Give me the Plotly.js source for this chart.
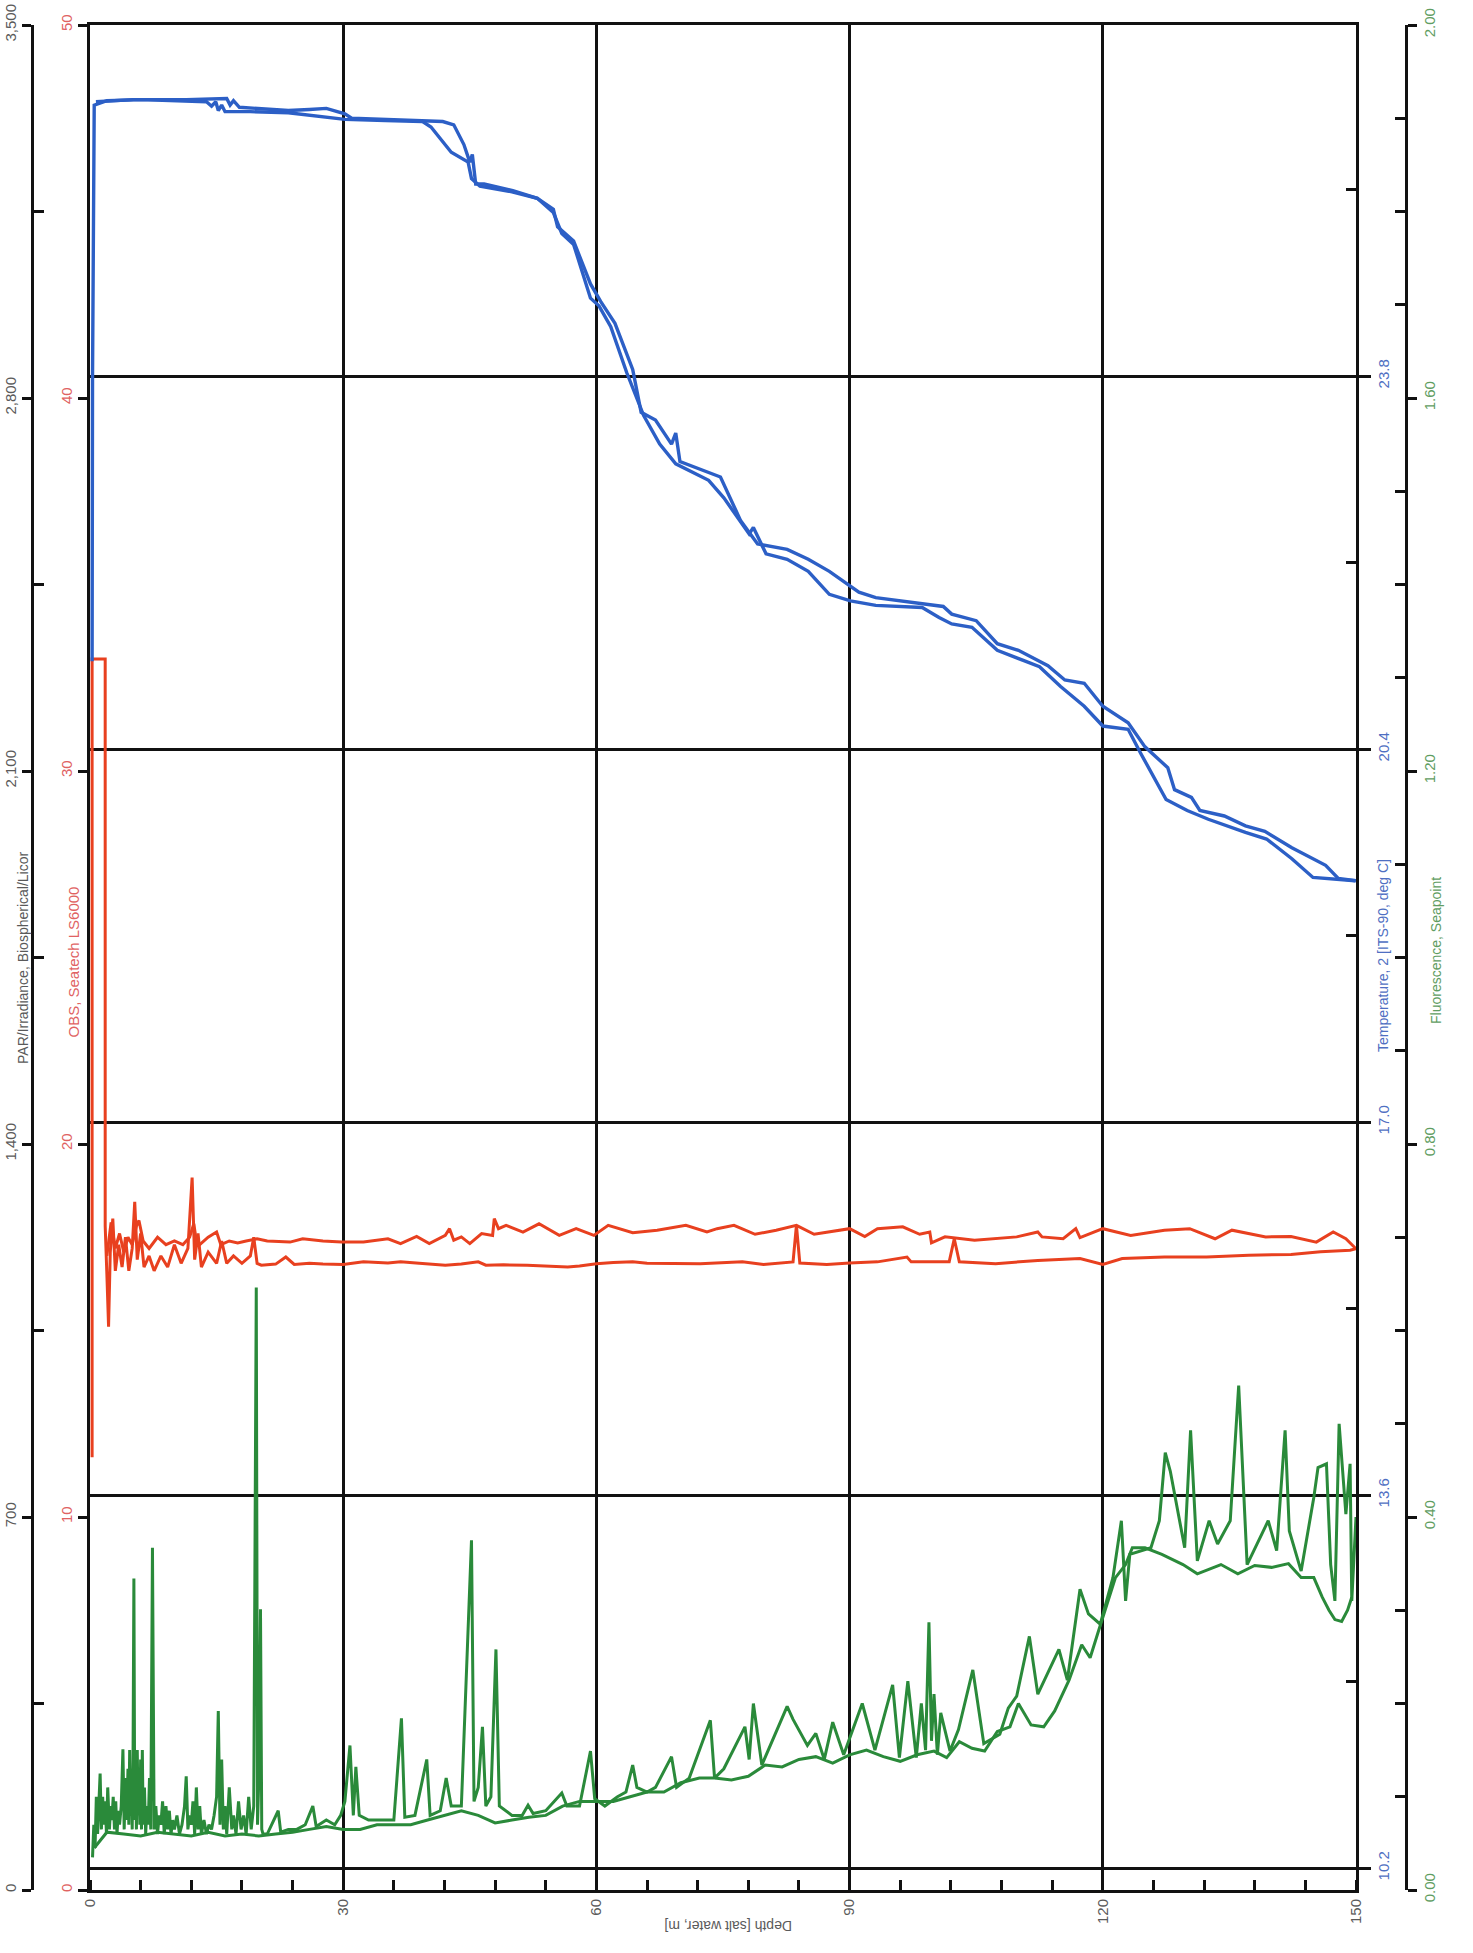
<!DOCTYPE html>
<html><head><meta charset="utf-8">
<script src="https://cdn.plot.ly/plotly-3.0.1.min.js"></script>
<style>html,body{margin:0;padding:0;background:#fff;}#chart{width:1473px;height:1953px;}</style>
</head><body><div id="chart"></div>
<script>
// ---- Temperature, 2 [ITS-90, deg C] (two passes of the cast) ----
const tempDownDepth = [0.25,0.3,0.5,2,6,10,13.8,14.4,14.9,15.2,15.6,16.0,19,23.5,27,30.2,35,39.4,40.4,41.8,42.8,44.8,45.2,46.2,50,53,54.9,55.9,57.3,59.3,60.3,61.7,63.6,65.6,67.5,69.4,73.3,75.1,78.1,78.6,80.1,82.6,85.1,87.6,90.1,93.1,98.6,100.6,102.1,104.5,107.5,110.5,112.5,115,117.8,120,123,124.5,127.5,130,132.5,136.9,139.4,142.4,144.9,149.9];
const tempDownValue = [21.2,23.8,26.27,26.31,26.32,26.31,26.30,26.26,26.30,26.22,26.27,26.21,26.21,26.20,26.17,26.14,26.13,26.12,26.07,25.94,25.84,25.75,25.6,25.53,25.48,25.42,25.29,25.10,25.0,24.51,24.44,24.25,23.83,23.44,23.18,23.0,22.85,22.69,22.36,22.42,22.18,22.13,22.02,21.81,21.75,21.71,21.69,21.60,21.54,21.51,21.30,21.21,21.15,20.97,20.79,20.61,20.58,20.36,19.94,19.84,19.76,19.64,19.58,19.40,19.23,19.20];
const tempUpDepth = [0.7,5.1,11.4,16.2,16.6,17.0,17.7,23.5,26,28,30.2,31,41.8,43.1,44.3,45.0,45.3,45.7,46.7,50.1,53,54.9,55.4,57.3,59.3,60.5,62.2,64.3,65.3,67.0,68.9,69.4,69.9,74.7,77.1,79.1,82.6,85.1,87.6,89.9,91.1,93.1,101.1,102.1,105,107.5,110,113.5,115.5,117.8,120,123,125,127.7,128.5,130.5,131.5,134.4,136.9,139.2,142.4,146.4,147.9,150];
const tempUpValue = [26.30,26.32,26.32,26.33,26.27,26.31,26.25,26.22,26.23,26.24,26.19,26.15,26.12,26.09,25.91,25.75,25.82,25.55,25.55,25.49,25.42,25.32,25.16,25.03,24.64,24.48,24.28,23.86,23.47,23.40,23.18,23.28,23.02,22.88,22.48,22.27,22.22,22.13,22.02,21.89,21.83,21.78,21.70,21.63,21.57,21.36,21.30,21.16,21.03,21.0,20.79,20.64,20.42,20.23,20.03,19.96,19.84,19.79,19.70,19.65,19.50,19.34,19.22,19.20];

// ---- OBS, Seatech LS6000 ----
const obsDownDepth = [0.25,0.25,1.8,1.8,2.0,2.2,2.4,2.7,3.0,3.4,3.8,4.2,4.6,5.0,5.3,5.6,6.0,6.4,7.0,7.6,8.4,9.2,10.0,10.8,11.6,12.1,12.4,12.8,13.2,14.0,15.0,15.6,16.2,17.0,18.0,19.0,19.4,19.8,20.3,22,23.2,24.2,26,27.6,30,32.4,35.3,36.8,39,42.1,44,46,46.9,49,51.8,54,56.6,58,60,62,64.3,66,68.7,72.3,77.3,79.8,83.3,83.7,84.1,87.3,90,93.3,96.8,97.3,101.8,102.4,103.0,107.3,112.3,117.3,120,122.3,127.3,132.3,137.3,142.3,145.8,149.3,150];
const obsDownValue = [11.6,33.0,33.0,17.8,16.5,15.1,17.1,18.0,16.6,17.3,16.7,17.5,16.6,17.2,18.45,16.9,17.6,16.7,17.0,16.6,17.0,16.7,17.3,16.8,17.2,19.1,16.9,17.6,16.7,17.1,16.8,17.4,16.8,17.0,16.8,17.0,17.5,16.8,16.75,16.78,16.97,16.77,16.80,16.78,16.77,16.84,16.81,16.84,16.80,16.75,16.78,16.84,16.75,16.76,16.75,16.73,16.70,16.73,16.79,16.82,16.84,16.80,16.79,16.79,16.84,16.77,16.84,17.82,16.81,16.77,16.81,16.84,16.97,16.84,16.84,17.46,16.84,16.79,16.88,16.93,16.77,16.93,16.97,16.97,17.02,17.04,17.11,17.15,17.19];
const obsUpDepth = [2.0,2.5,3.0,3.5,4.0,4.5,5.0,5.5,5.8,6.3,7,8,9,10,11,11.8,12.3,12.6,13,14,15,15.5,16.5,17.5,18.5,19.8,21,23.7,25.2,27.6,29.8,32.4,35.3,36.8,38.7,40.2,42.1,42.6,43.1,44,45,46.4,47.7,47.9,48.4,49.3,51.3,53.2,55.6,57.6,59.7,61.4,64.3,67.2,70.6,73.1,74.3,76.3,78.8,81.3,83.7,85.8,90,91.8,93.3,96.3,98.3,99.5,99.7,101.3,104.8,109.8,112.3,112.8,115.3,116.8,117.3,120,123.3,127.3,130.3,133.3,135.3,139.3,142.3,145.3,147.3,148.8,150];
const obsUpValue = [17.0,17.9,17.2,17.6,17.1,17.5,17.3,17.8,17.95,17.4,17.2,17.5,17.3,17.4,17.3,17.5,17.86,17.4,17.3,17.5,17.64,17.3,17.4,17.35,17.4,17.46,17.4,17.37,17.46,17.40,17.37,17.37,17.46,17.33,17.52,17.33,17.55,17.73,17.42,17.51,17.33,17.60,17.55,18.0,17.73,17.82,17.64,17.86,17.55,17.73,17.55,17.82,17.62,17.69,17.82,17.64,17.73,17.82,17.58,17.69,17.82,17.58,17.73,17.52,17.73,17.78,17.58,17.64,17.35,17.51,17.42,17.51,17.64,17.51,17.46,17.73,17.49,17.73,17.55,17.69,17.73,17.46,17.69,17.51,17.52,17.37,17.64,17.46,17.19];

// ---- Fluorescence, Seapoint ----
const fluorDownDepth = [0.3,0.45,0.6,0.75,0.9,1.05,1.2,1.35,1.5,1.65,1.8,1.95,2.1,2.3,2.45,2.6,2.75,2.9,3.05,3.2,3.35,3.5,3.7,3.9,4.05,4.2,4.35,4.5,4.6,4.7,4.8,4.9,5.0,5.1,5.2,5.3,5.4,5.5,5.6,5.7,5.8,5.9,6.0,6.1,6.2,6.3,6.45,6.6,6.75,6.9,7.05,7.2,7.4,7.6,7.8,8.0,8.2,8.4,8.6,8.8,9.0,9.2,9.4,9.6,9.8,10.0,10.3,10.6,10.9,11.2,11.4,11.6,11.8,12.0,12.2,12.4,12.6,12.8,13.0,13.2,13.5,13.8,14.1,14.4,14.7,15.0,15.2,15.4,15.6,15.8,16.0,16.2,16.5,16.8,17.0,17.3,17.6,17.9,18.2,18.5,18.8,19.1,19.4,19.7,19.85,20.0,20.2,20.35,20.5,
  21.0,22.3,22.6,23.5,24.5,25.5,26.4,26.8,28,29,29.7,30.2,30.8,31.2,31.5,31.9,33,34.5,36,36.9,37.3,38.5,39.9,40.3,41.5,42.2,42.8,44,45.2,45.5,46.0,46.5,46.9,47.5,48.1,48.5,50,51.2,51.9,52.5,54,55.9,56.5,58,59.3,59.8,61,62.5,63.5,64.3,64.8,66,67,68.9,69.5,71,73.5,74,
  75.1,77.6,78.1,78.6,79.6,82.6,83.3,85,86,87,88,89.3,91.5,93,95.1,95.9,96.9,97.9,98.5,99.0,99.4,99.7,100.0,100.4,100.8,101.9,102.9,104.6,105.9,107.8,108.8,109.8,111.3,112.3,114.8,115.8,117.3,118.3,119.7,121.2,122.2,122.7,123.2,125.7,126.7,127.4,128,129.7,130.4,131.2,132.6,133.6,135.1,136.1,137.1,139.6,140.6,141.6,142.1,143.5,145,145.5,146.5,147,147.5,148,148.8,149.3,149.5,150];
const fluorDownValue = [0.035,0.07,0.045,0.10,0.06,0.085,0.125,0.065,0.10,0.07,0.095,0.06,0.11,0.065,0.09,0.075,0.10,0.065,0.095,0.06,0.085,0.07,0.09,0.151,0.065,0.12,0.075,0.13,0.07,0.15,0.08,0.12,0.065,0.14,0.334,0.075,0.13,0.065,0.15,0.08,0.12,0.07,0.14,0.065,0.15,0.07,0.11,0.06,0.09,0.07,0.12,0.065,0.367,0.065,0.09,0.06,0.08,0.07,0.095,0.06,0.09,0.065,0.085,0.06,0.075,0.065,0.08,0.06,0.07,0.09,0.122,0.065,0.08,0.07,0.095,0.06,0.11,0.065,0.09,0.06,0.075,0.06,0.07,0.065,0.08,0.10,0.192,0.07,0.14,0.065,0.09,0.06,0.11,0.065,0.08,0.06,0.095,0.065,0.08,0.06,0.10,0.065,0.09,0.646,0.07,0.12,0.301,0.065,0.06,
  0.06,0.085,0.062,0.065,0.065,0.07,0.09,0.068,0.075,0.07,0.08,0.095,0.155,0.08,0.132,0.08,0.075,0.075,0.075,0.184,0.078,0.08,0.14,0.08,0.085,0.12,0.09,0.09,0.375,0.095,0.11,0.175,0.09,0.10,0.258,0.09,0.08,0.08,0.091,0.082,0.085,0.104,0.09,0.09,0.149,0.098,0.09,0.10,0.105,0.134,0.11,0.105,0.11,0.143,0.11,0.12,0.182,0.12,
  0.13,0.175,0.14,0.20,0.134,0.197,0.183,0.155,0.168,0.14,0.18,0.145,0.20,0.15,0.22,0.142,0.224,0.142,0.20,0.15,0.287,0.16,0.21,0.145,0.19,0.149,0.172,0.236,0.157,0.167,0.195,0.208,0.272,0.21,0.258,0.225,0.3225,0.296,0.285,0.335,0.396,0.31,0.36,0.367,0.396,0.469,0.449,0.367,0.493,0.353,0.396,0.371,0.396,0.541,0.349,0.396,0.364,0.493,0.385,0.342,0.421,0.453,0.457,0.349,0.31,0.50,0.403,0.457,0.31,0.40];
const fluorUpDepth = [0.5,2,4,6,8,10,12,14,16,18,20,22,24,26,28,30,32,34,36,38,40,42,44,46,48,50,52,54,56,58,60,62,64,66,68,70,72.2,74,76,78,80,82,84,86,88,90,92,94,96,98,100,101.5,103,104.5,106,107.5,109,110,111.5,113,114.3,116,117.5,118.5,119.5,120.5,121.5,122.7,123.5,125,127,129.5,131.2,134,136,138,140,142,143.5,145,146,146.8,147.5,148.3,149,149.5];
const fluorUpValue = [0.045,0.062,0.06,0.058,0.062,0.06,0.058,0.062,0.058,0.06,0.058,0.06,0.062,0.065,0.068,0.065,0.065,0.07,0.07,0.07,0.075,0.08,0.085,0.08,0.072,0.075,0.078,0.08,0.09,0.095,0.095,0.095,0.10,0.105,0.105,0.115,0.12,0.12,0.118,0.122,0.134,0.132,0.14,0.143,0.136,0.145,0.15,0.143,0.138,0.145,0.149,0.142,0.159,0.152,0.149,0.17,0.175,0.2,0.177,0.175,0.192,0.225,0.263,0.249,0.278,0.306,0.335,0.349,0.367,0.367,0.36,0.349,0.339,0.349,0.339,0.348,0.346,0.35,0.335,0.335,0.314,0.3,0.29,0.288,0.30,0.314];

// ---- axis ticks ----
const depthTicks = [0,30,60,90,120,150];
const parTicks = [0,700,1400,2100,2800,3500];
const obsTicks = [0,10,20,30,40,50];
const tempTicks = [10.2,13.6,17.0,20.4,23.8];
const fluorTicks = [0.0,0.4,0.8,1.2,1.6,2.0];

// ---- page geometry ----
const W = 1473, H = 1953;
const px = v => v / W, py = v => (H - v) / H;
const plotL = 90, plotR = 1356, plotT = 25, plotB = 1890;
const FONT = 'Liberation Sans, Arial, Helvetica, sans-serif';
const INK = '#111';
const BLUE = '#2c5fc6', RED = '#e8401f', GREEN = '#2a8a3a';
const BLUE_T = '#4f6fc2', RED_T = '#e06262', GREEN_T = '#5f9d62', GREY_T = '#5a5a5a';

const yBase = {
  domain: [py(plotB), py(plotT)], zeroline: false, showgrid: false,
  showline: true, linecolor: INK, linewidth: 3,
  ticks: 'outside', ticklen: 9, tickwidth: 3, tickcolor: INK,
  tickangle: -90, fixedrange: true, tickmode: 'array'
};

const traces = [
  {x: [null], y: [null], yaxis: 'y2', mode: 'lines', hoverinfo: 'skip', showlegend: false},
  {x: obsDownDepth, y: obsDownValue, yaxis: 'y', mode: 'lines', line: {color: RED, width: 3}, name: 'OBS'},
  {x: obsUpDepth, y: obsUpValue, yaxis: 'y', mode: 'lines', line: {color: RED, width: 3}, name: 'OBS'},
  {x: fluorUpDepth, y: fluorUpValue, yaxis: 'y4', mode: 'lines', line: {color: GREEN, width: 3}, name: 'Fluorescence'},
  {x: fluorDownDepth, y: fluorDownValue, yaxis: 'y4', mode: 'lines', line: {color: GREEN, width: 3}, name: 'Fluorescence'},
  {x: tempDownDepth, y: tempDownValue, yaxis: 'y3', mode: 'lines', line: {color: BLUE, width: 3.4}, name: 'Temperature'},
  {x: tempUpDepth, y: tempUpValue, yaxis: 'y3', mode: 'lines', line: {color: BLUE, width: 3.4}, name: 'Temperature'}
];

const layout = {
  width: W, height: H, margin: {l: 0, r: 0, t: 0, b: 0},
  paper_bgcolor: '#fff', plot_bgcolor: '#fff', showlegend: false,
  font: {family: FONT, size: 15, color: GREY_T},
  xaxis: {
    domain: [px(plotL), px(plotR)], range: [0, 150], zeroline: false,
    tickmode: 'array', tickvals: depthTicks, ticktext: depthTicks.map(String),
    showgrid: true, gridcolor: INK, gridwidth: 3,
    showline: true, mirror: true, linecolor: INK, linewidth: 3,
    ticks: '', tickangle: -90, tickfont: {color: GREY_T, size: 15}, fixedrange: true,
    minor: {dtick: 6, tick0: 0, ticks: 'inside', ticklen: 10, tickwidth: 3, tickcolor: INK, showgrid: false}
  },
  yaxis: Object.assign({}, yBase, {
    range: [0, 50], side: 'left', tickvals: obsTicks, ticktext: obsTicks.map(String),
    tickfont: {color: RED_T, size: 15}
  }),
  yaxis2: Object.assign({}, yBase, {
    overlaying: 'y', anchor: 'free', position: px(32), side: 'left', range: [0, 3500],
    tickvals: parTicks, ticktext: parTicks.map(v => v.toLocaleString('en-US')),
    tickfont: {color: GREY_T, size: 15},
    minor: {tickvals: [350,1050,1750,2450,3150], ticks: 'inside', ticklen: 10, tickwidth: 3, tickcolor: INK, showgrid: false}
  }),
  yaxis3: Object.assign({}, yBase, {
    overlaying: 'y', anchor: 'x', side: 'right', range: [10, 27],
    tickvals: tempTicks, ticktext: tempTicks.map(v => v.toFixed(1)),
    showgrid: true, gridcolor: INK, gridwidth: 3, ticklen: 12,
    tickfont: {color: BLUE_T, size: 15},
    minor: {tickvals: [11.9,15.3,18.7,22.1,25.5], ticks: 'inside', ticklen: 10, tickwidth: 3, tickcolor: INK, showgrid: false}
  }),
  yaxis4: Object.assign({}, yBase, {
    overlaying: 'y', anchor: 'free', position: px(1406), side: 'right', range: [0, 2],
    tickvals: fluorTicks, ticktext: fluorTicks.map(v => v.toFixed(2)),
    tickfont: {color: GREEN_T, size: 15},
    minor: {tickvals: [0.1,0.2,0.3,0.5,0.6,0.7,0.9,1.0,1.1,1.3,1.4,1.5,1.7,1.8,1.9], ticks: 'inside', ticklen: 10, tickwidth: 3, tickcolor: INK, showgrid: false}
  }),
  annotations: [
    {text: 'PAR/Irradiance, Biospherical/Licor', xref: 'paper', yref: 'paper', x: px(13), y: py(958), textangle: -90, showarrow: false, font: {family: FONT, size: 14, color: GREY_T}},
    {text: 'OBS, Seatech LS6000', xref: 'paper', yref: 'paper', x: px(62), y: py(962), textangle: -90, showarrow: false, font: {family: FONT, size: 15, color: RED_T}},
    {text: 'Temperature, 2 [ITS-90, deg C]', xref: 'paper', yref: 'paper', x: px(1393), y: py(956), textangle: -90, showarrow: false, font: {family: FONT, size: 14, color: BLUE_T}},
    {text: 'Fluorescence, Seapoint', xref: 'paper', yref: 'paper', x: px(1446), y: py(951), textangle: -90, showarrow: false, font: {family: FONT, size: 14, color: GREEN_T}},
    {text: 'Depth [salt water, m]', xref: 'paper', yref: 'paper', x: px(728), y: py(1936), textangle: 180, showarrow: false, font: {family: FONT, size: 14, color: GREY_T}}
  ]
};

Plotly.newPlot('chart', traces, layout, {staticPlot: true, displayModeBar: false});
</script>
</body></html>
